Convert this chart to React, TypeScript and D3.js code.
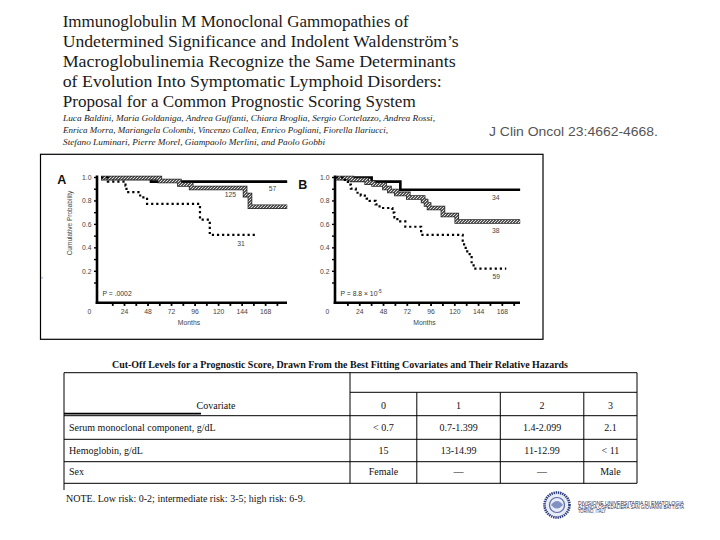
import React from 'react';
import * as d3 from 'd3';

const titleLines = [
  'Immunoglobulin M Monoclonal Gammopathies of',
  'Undetermined Significance and Indolent Waldenström’s',
  'Macroglobulinemia Recognize the Same Determinants',
  'of Evolution Into Symptomatic Lymphoid Disorders:',
  'Proposal for a Common Prognostic Scoring System',
];
const titleWidths = [346, 396, 393, 379, 353];

const authorLines = [
  'Luca Baldini, Maria Goldaniga, Andrea Guffanti, Chiara Broglia, Sergio Cortelazzo, Andrea Rossi,',
  'Enrica Morra, Mariangela Colombi, Vincenzo Callea, Enrico Pogliani, Fiorella Ilariucci,',
  'Stefano Luminari, Pierre Morel, Giampaolo Merlini, and Paolo Gobbi',
];
const authorWidths = [372, 325, 262];

const citation = 'J Clin Oncol 23:4662-4668.';

// survival curves, panel A
const aSolidMonths = [0, 51, 190];
const aSolidSurv = [1.0, 0.965, 0.965];
const aHatchMonths = [0, 60, 80, 92, 147, 152, 190];
const aHatchSurv = [0.995, 0.97, 0.94, 0.91, 0.85, 0.75, 0.75];
const aDotMonths = [0, 7, 25, 26, 40, 47, 101, 111, 157];
const aDotSurv = [1.0, 0.965, 0.93, 0.875, 0.83, 0.775, 0.64, 0.51, 0.51];
const aLabels = ['57', '125', '31'];
const aLabelMonths = [175, 132, 143];
const aLabelSurv = [0.902, 0.857, 0.435];

// survival curves, panel B
const bSolidMonths = [0, 36, 65, 186];
const bSolidSurv = [1.0, 0.965, 0.895, 0.895];
const bHatchMonths = [0, 16, 31, 38, 49, 54, 61, 73, 88, 91, 94, 108, 122, 186];
const bHatchSurv = [0.995, 0.98, 0.955, 0.94, 0.91, 0.885, 0.86, 0.83, 0.8, 0.77, 0.74, 0.68, 0.625, 0.625];
const bDotMonths = [0, 9, 12, 15, 20, 25, 31, 34, 40, 44, 57, 59, 62, 70, 86, 128, 131, 135, 137, 139, 172];
const bDotSurv = [1.0, 0.97, 0.94, 0.905, 0.87, 0.845, 0.82, 0.8, 0.77, 0.74, 0.7, 0.66, 0.625, 0.58, 0.51, 0.43, 0.37, 0.33, 0.26, 0.222, 0.222];
const bLabels = ['34', '38', '59'];
const bLabelMonths = [161.5, 161.5, 162];
const bLabelSurv = [0.825, 0.546, 0.154];

const monthTicks = [24, 48, 72, 96, 120, 144, 168];
const survTicks = [0.2, 0.4, 0.6, 0.8, 1.0];

// table
const tableTitle =
  'Cut-Off Levels for a Prognostic Score, Drawn From the Best Fitting Covariates and Their Relative Hazards';
const scoreHeaders = ['0', '1', '2', '3'];
const covariates = ['Serum monoclonal component, g/dL', 'Hemoglobin, g/dL', 'Sex'];
const serumCuts = ['< 0.7', '0.7-1.399', '1.4-2.099', '2.1'];
const hemoglobinCuts = ['15', '13-14.99', '11-12.99', '< 11'];
const sexCuts = ['Female', '—', '—', 'Male'];
const tableNote = 'NOTE. Low risk: 0-2; intermediate risk: 3-5; high risk: 6-9.';

const logoLines = [
  'DIVISIONE UNIVERSITARIA DI EMATOLOGIA',
  'AZIENDA OSPEDALIERA SAN GIOVANNI BATTISTA',
  'TORINO, ITALY',
];

const sans = "'Liberation Sans', Arial, sans-serif";
const serif = "'Liberation Serif', 'Times New Roman', serif";

type Pt = { m: number; s: number };
const zip = (ms: number[], ss: number[]): Pt[] => ms.map((m, i) => ({ m, s: ss[i] }));

interface PanelProps {
  axisX: number;
  zeroX: number;
  pxPerMonth: number;
  endX: number;
  letter: string;
  letterX: number;
  letterY: number;
  solid: Pt[];
  hatch: Pt[];
  dotted: Pt[];
  labels: string[];
  labelPts: Pt[];
  pValue: React.ReactNode;
  yTitle: boolean;
}

const axisY = 302.7;
const y = d3.scaleLinear().domain([0, 1]).range([294.75, 177.5]);

const KMPanel = (p: PanelProps) => {
  const x = d3
    .scaleLinear()
    .domain([0, 180])
    .range([p.zeroX, p.zeroX + 180 * p.pxPerMonth]);
  const line = d3
    .line<Pt>()
    .x(d => x(d.m))
    .y(d => y(d.s))
    .curve(d3.curveStepAfter);
  const minorX = d3.range(12, 181, 12);
  const minorY = d3.range(0.1, 1.001, 0.1);
  const mid = (p.axisX + p.endX) / 2;
  return (
    <g>
      {/* axes */}
      <line x1={p.axisX} x2={p.axisX} y1={y(1) - 2} y2={axisY + 1.2} stroke="#000" strokeWidth={2.6} />
      <line x1={p.axisX - 1.3} x2={p.endX} y1={axisY} y2={axisY} stroke="#000" strokeWidth={2.6} />
      {minorX.map(m => (
        <line key={'tx' + m} x1={x(m)} x2={x(m)} y1={axisY} y2={axisY + 3.2} stroke="#000" strokeWidth={1.8} />
      ))}
      {minorY.map(v => (
        <line key={'ty' + v} x1={p.axisX - 3} x2={p.axisX} y1={y(v)} y2={y(v)} stroke="#000" strokeWidth={1.4} />
      ))}
      {survTicks.map(v => (
        <text key={'ly' + v} x={p.axisX - 5.5} y={y(v) + 2.4} fontSize={6.8} fill="#444" textAnchor="end" fontFamily={sans}>
          {d3.format('.1f')(v)}
        </text>
      ))}
      <text x={p.axisX - 7.5} y={313.5} fontSize={6.8} fill="#444" textAnchor="middle" fontFamily={sans}>0</text>
      {monthTicks.map(m => (
        <text key={'lx' + m} x={x(m)} y={313.5} fontSize={6.8} fill="#444" textAnchor="middle" fontFamily={sans}>
          {m}
        </text>
      ))}
      <text x={mid - 3} y={325} fontSize={6.8} fill="#444" textAnchor="middle" fontFamily={sans}>Months</text>
      {p.yTitle && (
        <text
          transform={`translate(${p.axisX - 25.3},${223}) rotate(-90)`}
          fontSize={6.5}
          fill="#444"
          textAnchor="middle"
          fontFamily={sans}
        >
          Cumulative Probability
        </text>
      )}
      <text x={p.letterX} y={p.letterY} fontSize={12.5} fontWeight="bold" textAnchor="middle" fontFamily={sans} fill="#111">
        {p.letter}
      </text>

      {/* curves */}
      <path d={line(p.solid) || ''} fill="none" stroke="#000" strokeWidth={2.6} />
      <path d={line(p.hatch) || ''} fill="none" stroke="#222" strokeWidth={4.6} />
      <path d={line(p.hatch) || ''} fill="none" stroke={`url(#hatch)`} strokeWidth={3} />
      <path d={line(p.dotted) || ''} fill="none" stroke="#000" strokeWidth={2.2} strokeDasharray="2.2 2.9" />

      {p.labels.map((t, i) => (
        <text
          key={t}
          x={x(p.labelPts[i].m)}
          y={y(p.labelPts[i].s) + 2.4}
          fontSize={6.8}
          fill="#444"
          textAnchor="middle"
          fontFamily={sans}
        >
          {t}
        </text>
      ))}
      <text x={p.axisX + 5.5} y={295.8} fontSize={6.8} fill="#333" fontFamily={sans}>
        {p.pValue}
      </text>
    </g>
  );
};

const App = () => {
  const colEdges = [350, 416.8, 500.3, 583.8, 637];
  const tableLeft = 64;
  const tableRight = 637;
  const rowLines = [415.7, 439.3, 461.7, 483.3];
  const rowBase = [431, 454, 475];
  const rows = [serumCuts, hemoglobinCuts, sexCuts];
  const colCenter = (i: number) => (colEdges[i] + colEdges[i + 1]) / 2;

  return (
    <svg
      width={720}
      height={540}
      viewBox="0 0 720 540"
      style={{ position: 'absolute', left: 0, top: 0, background: '#fff' }}
    >
      <defs>
        <pattern id="hatch" patternUnits="userSpaceOnUse" width={3} height={3}>
          <rect width={3} height={3} fill="#555" />
          <path d="M0,3 L3,0 M-1,1 L1,-1 M2,4 L4,2" stroke="#eee" strokeWidth={0.9} />
        </pattern>
      </defs>
      <rect width={720} height={540} fill="#fff" />

      {/* article header */}
      {titleLines.map((t, i) => (
        <text
          key={t}
          x={62.7}
          y={27 + i * 19.9}
          fontSize={17.5}
          fontFamily={serif}
          fill="#1a1a1a"
          textLength={titleWidths[i]}
          lengthAdjust="spacingAndGlyphs"
        >
          {t}
        </text>
      ))}
      {authorLines.map((t, i) => (
        <text
          key={t}
          x={63}
          y={121 + i * 11.8}
          fontSize={9}
          fontStyle="italic"
          fontFamily={serif}
          fill="#222"
          textLength={authorWidths[i]}
          lengthAdjust="spacingAndGlyphs"
        >
          {t}
        </text>
      ))}
      <text x={489} y={136} fontSize={12} fontFamily={sans} fill="#555" textLength={169} lengthAdjust="spacingAndGlyphs">
        {citation}
      </text>

      {/* figure panel */}
      <rect x={40.5} y={154.3} width={502.5} height={185} fill="none" stroke="#000" strokeWidth={1.2} />
      <text x={41} y={279} fontSize={6} fill="#777" fontFamily={sans}>›</text>
      <KMPanel
        axisX={97}
        zeroX={101}
        pxPerMonth={0.98}
        endX={287}
        letter="A"
        letterX={61.7}
        letterY={183.6}
        solid={zip(aSolidMonths, aSolidSurv)}
        hatch={zip(aHatchMonths, aHatchSurv)}
        dotted={zip(aDotMonths, aDotSurv)}
        labels={aLabels}
        labelPts={zip(aLabelMonths, aLabelSurv)}
        pValue={'P = .0002'}
        yTitle
      />
      <KMPanel
        axisX={335}
        zeroX={336}
        pxPerMonth={0.99}
        endX={520}
        letter="B"
        letterX={302.7}
        letterY={188.8}
        solid={zip(bSolidMonths, bSolidSurv)}
        hatch={zip(bHatchMonths, bHatchSurv)}
        dotted={zip(bDotMonths, bDotSurv)}
        labels={bLabels}
        labelPts={zip(bLabelMonths, bLabelSurv)}
        pValue={
          <>
            {'P = 8.8 × 10'}
            <tspan dy={-3} fontSize={4.8}>-5</tspan>
          </>
        }
        yTitle={false}
      />

      {/* table */}
      <text
        x={340}
        y={368}
        fontSize={9.5}
        fontWeight="bold"
        fontFamily={serif}
        fill="#111"
        textAnchor="middle"
        textLength={456}
        lengthAdjust="spacingAndGlyphs"
      >
        {tableTitle}
      </text>
      <g stroke="#000" strokeWidth={1}>
        <line x1={tableLeft} x2={tableRight} y1={372.7} y2={372.7} />
        <line x1={colEdges[0]} x2={tableRight} y1={392.3} y2={392.3} />
        {rowLines.map(v => (
          <line key={'r' + v} x1={tableLeft} x2={tableRight} y1={v} y2={v} />
        ))}
        <line x1={tableLeft} x2={201} y1={413.6} y2={413.6} strokeWidth={1.8} />
        <line x1={tableLeft} x2={tableLeft} y1={372.7} y2={490} />
        <line x1={tableRight} x2={tableRight} y1={372.7} y2={483.3} />
        <line x1={colEdges[0]} x2={colEdges[0]} y1={372.7} y2={483.3} />
        {colEdges.slice(1, 4).map(v => (
          <line key={'c' + v} x1={v} x2={v} y1={392.3} y2={483.3} />
        ))}
      </g>
      <g fontFamily={serif} fontSize={10} fill="#111">
        <text x={216} y={408.5} textAnchor="middle">Covariate</text>
        {scoreHeaders.map((h, i) => (
          <text key={'h' + h} x={colCenter(i)} y={408.5} textAnchor="middle">{h}</text>
        ))}
        {covariates.map((c, r) => (
          <text key={c} x={69} y={rowBase[r]}>{c}</text>
        ))}
        {rows.map((vals, r) =>
          vals.map((v, i) => (
            <text key={r + '-' + i} x={colCenter(i)} y={rowBase[r]} textAnchor="middle">{v}</text>
          ))
        )}
        <text x={66} y={502}>{tableNote}</text>
      </g>

      {/* institution logo */}
      <g>
        <circle cx={557} cy={505} r={12.5} fill="#e8ecf6" stroke="#2a3a7c" strokeWidth={2.6} strokeDasharray="1.4 0.8" />
        <circle cx={557} cy={505} r={7.5} fill="none" stroke="#5a6aa8" strokeWidth={1.2} />
        <path d="M551,505 Q557,497 563,505 Q557,512 551,505" fill="#8090c0" />
      </g>
      <g fontFamily={sans} fontSize={4.6} fill="#1c2550">
        {logoLines.map((t, i) => (
          <text key={t} x={578} y={504.8 + i * 4.2} textLength={i === 2 ? 28 : 106} lengthAdjust="spacingAndGlyphs">
            {t}
          </text>
        ))}
      </g>
    </svg>
  );
};

export default App;
